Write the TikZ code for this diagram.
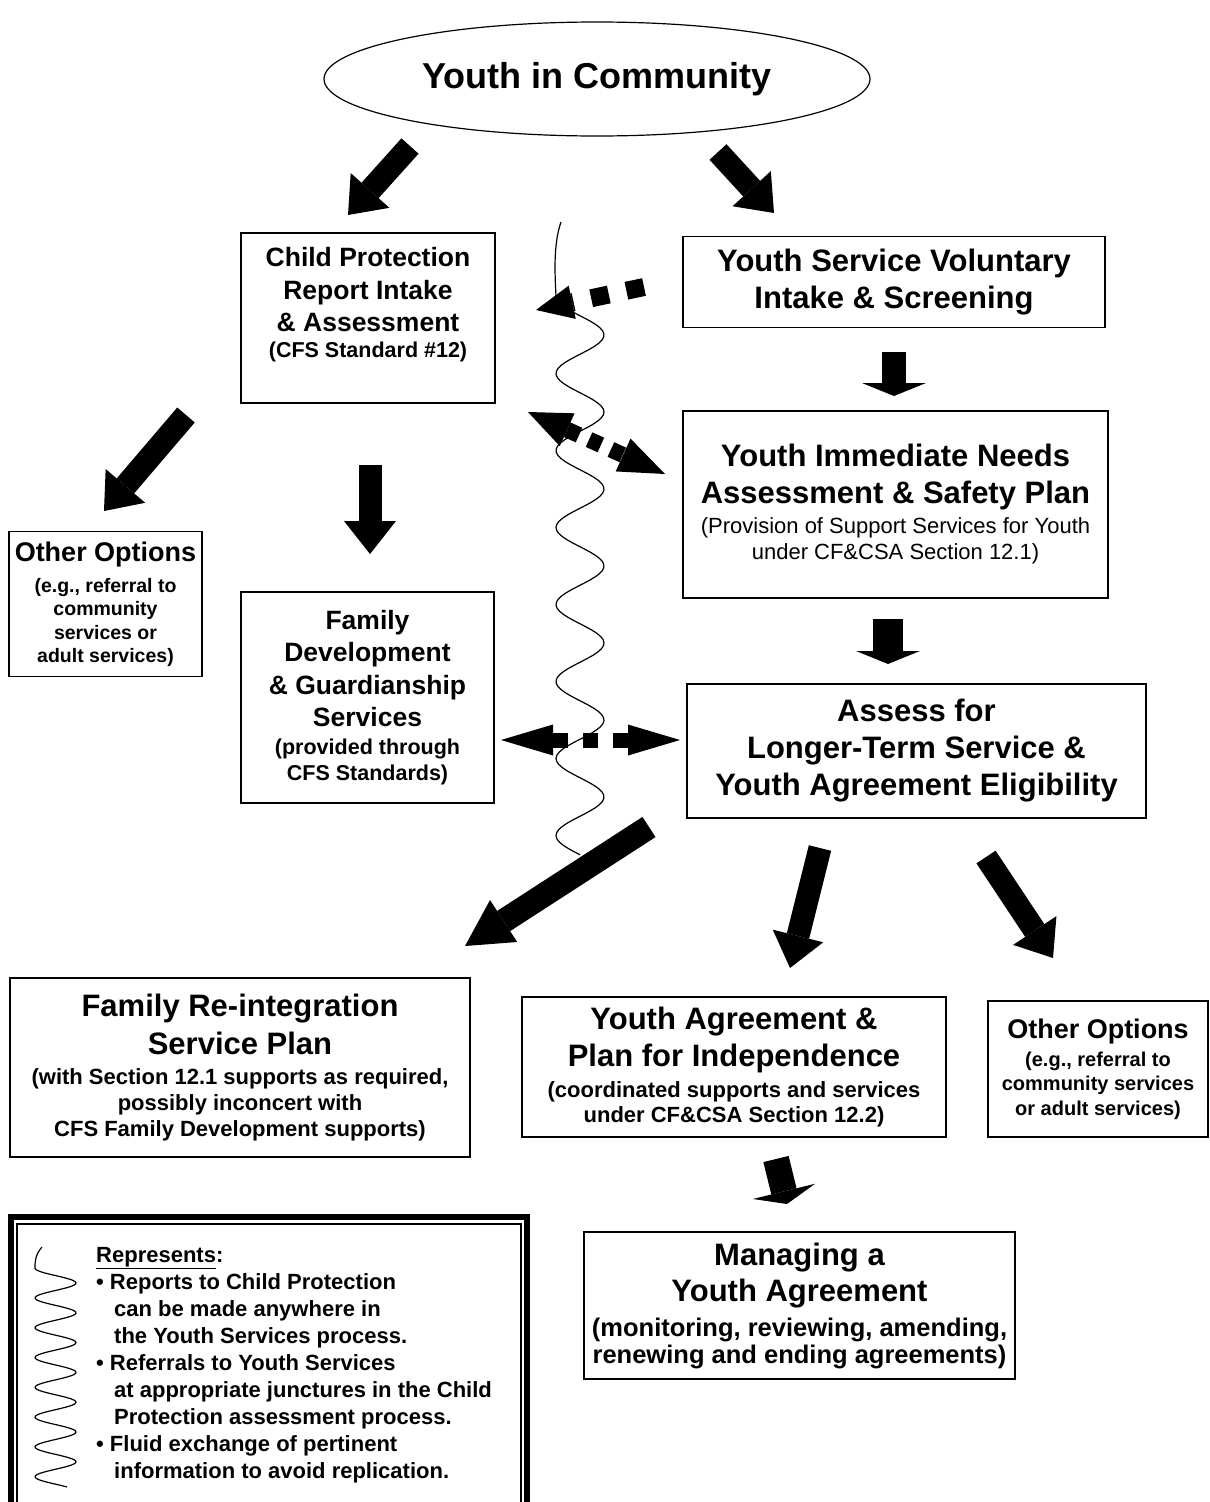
\documentclass[tikz,border=0pt]{standalone}
\usepackage{fontspec}
\setmainfont{Liberation Sans}
\usetikzlibrary{arrows.meta,shapes.geometric}

\newcommand{\fsz}[2]{\fontsize{#1}{#2}\selectfont}

\tikzset{
	box/.style={draw,line width=1.6pt,inner sep=0pt,align=center},
	bigarrow/.style={-{Triangle[length=33pt,width=52pt,line width=0pt]},line width=23pt},
	flatarrow/.style={-{Triangle[length=13pt,width=64pt,line width=0pt]},line width=24pt},
	dasharrow/.style={line width=16pt},
	wave/.style={line width=1.2pt},
}

\begin{document}
\begin{tikzpicture}[x=1pt,y=-1pt]
	\useasboundingbox (0,0) rectangle (1210,1502);

	% wavy line between child protection and youth services
	\draw[wave] (561,222) .. controls (553,245) and (555,275) .. (556,296.5)
		-- plot[domain=296.5:854.75,samples=180,variable=\t] ({580+24*cos((\t-412)*4.67532)},\t);

	% top
	\node[draw,ellipse,line width=1.2pt,minimum width=546,minimum height=114,inner sep=0pt,font=\fsz{36}{40}\bfseries] (yic) at (597,79) {Youth in Community};

	% left column
	\node[box,minimum width=254,minimum height=170] (cp) at (368,318) {};
	\node[align=center,inner sep=0pt,font=\fsz{26.5}{32.5}\bfseries] (cptext) at ([yshift=13pt]cp.center)
		{Child Protection\\Report Intake\\\& Assessment\\[-6.5pt]\fsz{21.5}{26}(CFS Standard \#12)};

	\node[box,minimum width=193,minimum height=145,font=\fsz{27}{31}\bfseries] (ool) at (105.5,604)
		{Other Options\\\fsz{19.5}{24}(e.g., referral to\\[-7.5pt]\fsz{19.5}{24}community\\[-7.5pt]\fsz{19.5}{24}services or\\[-7.5pt]\fsz{19.5}{24}adult services)};

	\node[box,minimum width=253,minimum height=211,font=\fsz{26.5}{32.5}\bfseries] (fdg) at (367.5,697.5)
		{Family\\Development\\\& Guardianship\\Services\\[-4.5pt]\fsz{21.5}{26}(provided through\\[-6.5pt]\fsz{21.5}{26}CFS Standards)};

	% right column
	\node[box,minimum width=422,minimum height=91,font=\fsz{31}{37}\bfseries] (ysv) at (894,282)
		{Youth Service Voluntary\\Intake \& Screening};

	\node[box,minimum width=425,minimum height=187,font=\fsz{31}{37}\bfseries] (yin) at (895.5,504.5)
		{Youth Immediate Needs\\Assessment \& Safety Plan\\[-7pt]\fsz{22}{26}\mdseries (Provision of Support Services for Youth\\[-11pt]\fsz{22}{26}\mdseries under CF\&CSA Section 12.1)};

	\node[box,minimum width=459,minimum height=134,font=\fsz{31}{37}\bfseries] (assess) at (916.5,751)
		{Assess for\\Longer-Term Service \&\\Youth Agreement Eligibility};

	% bottom row
	\node[box,minimum width=460,minimum height=179,font=\fsz{31}{38}\bfseries] (fri) at (240,1067.5)
		{Family Re-integration\\Service Plan\\[-8pt]\fsz{22}{26}(with Section 12.1 supports as required,\\[-12pt]\fsz{22}{26}possibly inconcert with\\[-12pt]\fsz{22}{26}CFS Family Development supports)};

	\node[box,minimum width=424,minimum height=140,font=\fsz{31}{37}\bfseries] (yap) at (734,1067)
		{Youth Agreement \&\\Plan for Independence\\[-6pt]\fsz{22}{26}(coordinated supports and services\\[-12pt]\fsz{22}{26}under CF\&CSA Section 12.2)};

	\node[box,minimum width=220,minimum height=136,font=\fsz{27}{30}\bfseries] (oor) at (1098,1069)
		{Other Options\\[-2pt]\fsz{20}{24}(e.g., referral to\\[-5.5pt]\fsz{20}{24}community services\\[-5.5pt]\fsz{20}{24}or adult services)};

	\node[box,minimum width=431,minimum height=147,font=\fsz{31}{36}\bfseries] (mya) at (799.5,1305.5)
		{Managing a\\Youth Agreement\\[-1pt]\fsz{25.5}{30}(monitoring, reviewing, amending,\\[-9pt]\fsz{25.5}{30}renewing and ending agreements)};

	% block arrows
	\coordinate (t1) at (410,146);  \coordinate (h1) at (348,215);
	\coordinate (t2) at (718,152);  \coordinate (h2) at (774,213);
	\coordinate (t3) at (894,352);  \coordinate (h3) at (894,396);
	\coordinate (t4) at (888,619);  \coordinate (h4) at (888,664);
	\coordinate (t5) at (186,415);  \coordinate (h5) at (104,511);
	\coordinate (t6) at (370,465);  \coordinate (h6) at (370,554);
	\coordinate (t7) at (649,827);  \coordinate (h7) at (465,946);
	\coordinate (t8) at (820,848);  \coordinate (h8) at (790,968);
	\coordinate (t9) at (986,857);  \coordinate (h9) at (1053,958);
	\coordinate (t10) at (776,1159); \coordinate (h10) at (787,1204);

	\draw[bigarrow] (t1) -- (h1);
	\draw[bigarrow] (t2) -- (h2);
	\draw[flatarrow] (t3) -- (h3);
	\draw[flatarrow,line width=30pt] (t4) -- (h4);
	\draw[bigarrow] (t5) -- (h5);
	\draw[bigarrow] (t6) -- (h6);
	\draw[bigarrow,line width=24pt,-{Triangle[length=46pt,width=50pt,line width=0pt]}] (t7) -- (h7);
	\draw[bigarrow] (t8) -- (h8);
	\draw[bigarrow] (t9) -- (h9);
	\draw[flatarrow,line width=26pt] (t10) -- (h10);

	% dashed exchange arrows
	\coordinate (d1) at (644,287); \coordinate (d2) at (536,310);
	\coordinate (d3) at (528,412); \coordinate (d4) at (665,474);
	\coordinate (d5) at (501,740); \coordinate (d6) at (680,740);

	\draw[dasharrow,line width=18pt,dash pattern=on 18pt off 18pt,-{Triangle[length=37pt,width=34pt,line width=0pt]}] (d1) -- (d2);
	\draw[dasharrow,dash pattern=on 13pt off 11pt,{Triangle[length=43pt,width=36pt,line width=0pt]}-{Triangle[length=46pt,width=36pt,line width=0pt]}] (d3) -- (d4);
	\draw[dasharrow,line width=15pt,dash pattern=on 15pt off 15pt,{Triangle[length=52pt,width=31pt,line width=0pt]}-{Triangle[length=52pt,width=31pt,line width=0pt]}] (d5) -- (d6);

	% legend
	\draw[line width=6pt] (11,1506) -- (11,1217) -- (527,1217) -- (527,1506);
	\draw[line width=1.8pt] (17,1506) -- (17,1224) -- (521,1224) -- (521,1506);

	\draw[wave] (42,1247) .. controls (35,1255) and (35,1262) .. (35,1268)
		-- plot[domain=1268:1487,samples=180,variable=\t] ({55.5+20.5*cos((\t-1283)*12.0805)},\t);

	\node[anchor=north west,align=left,inner sep=0pt,font=\fsz{22}{27}\bfseries] (legtext) at (96,1247)
		{\underline{Represents}:\\
		 \textbullet\ Reports to Child Protection\\
		 \hspace*{18pt}can be made anywhere in\\
		 \hspace*{18pt}the Youth Services process.\\
		 \textbullet\ Referrals to Youth Services\\
		 \hspace*{18pt}at appropriate junctures in the Child\\
		 \hspace*{18pt}Protection assessment process.\\
		 \textbullet\ Fluid exchange of pertinent\\
		 \hspace*{18pt}information to avoid replication.};

\end{tikzpicture}
\end{document}
